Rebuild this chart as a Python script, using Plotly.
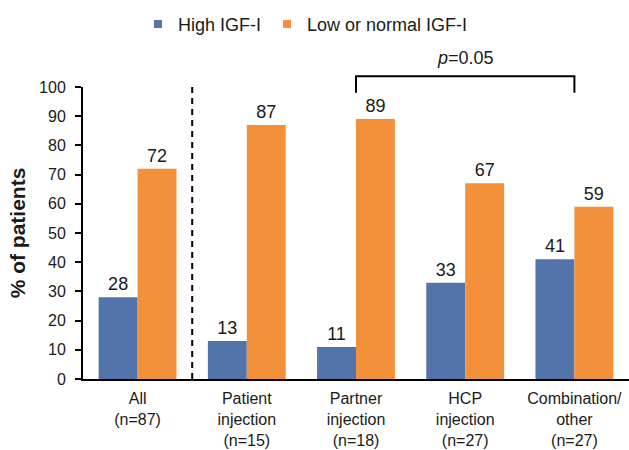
import plotly.graph_objects as go

categories = ["All<br>(n=87)", "Patient<br>injection<br>(n=15)", "Partner<br>injection<br>(n=18)",
              "HCP<br>injection<br>(n=27)", "Combination/<br>other<br>(n=27)"]
high_igf = [28, 13, 11, 33, 41]
low_normal_igf = [72, 87, 89, 67, 59]
series_names = ["High IGF-I", "Low or normal IGF-I"]
colors = ["#5274AB", "#F2913A"]
y_ticks = list(range(0, 101, 10))
p_label = "<i>p</i>=0.05"

FONT = "Liberation Sans, Arial, sans-serif"
TXT = "#1a1a1a"

fig = go.Figure()
for i, (name, vals, col) in enumerate(zip(series_names, [high_igf, low_normal_igf], colors)):
    fig.add_trace(go.Bar(
        x=categories, y=vals, name=name, marker_color=col, marker_line_width=0,
        text=[str(v) for v in vals], textposition="outside",
        textfont=dict(size=18, color=TXT, family=FONT), cliponaxis=False,
        showlegend=False,
    ))
    # legend proxy with small square symbol
    fig.add_trace(go.Scatter(
        x=[None], y=[None], mode="markers", name=name,
        legend="legend" if i == 0 else "legend2",
        marker=dict(symbol="square", size=8, color=col),
    ))

# dashed separator between "All" and the injection groups
fig.add_shape(type="line", xref="x", yref="y", x0=0.5, x1=0.5, y0=0, y1=100,
              line=dict(color="black", width=2, dash="6px,5px"))
# significance bracket
fig.add_shape(type="path", xref="x", yref="paper",
              path="M 2,0.98 L 2,1.037 L 4,1.037 L 4,0.98",
              line=dict(color="black", width=2))
fig.add_annotation(x=3, xref="x", y=1.10, yref="paper", text=p_label, showarrow=False,
                   font=dict(size=18, color=TXT, family=FONT), yanchor="middle")

legend_style = dict(orientation="h", xanchor="left", y=1.215, yanchor="middle",
                    font=dict(size=18, color=TXT), itemwidth=30, bgcolor="rgba(0,0,0,0)")

fig.update_layout(
    width=629, height=450,
    margin=dict(l=83, r=0, t=87, b=71),
    paper_bgcolor="white", plot_bgcolor="white",
    font=dict(family=FONT, size=16, color=TXT),
    barmode="group", bargap=0.287, bargroupgap=0,
    legend=dict(x=0.1007, **legend_style),
    legend2=dict(x=0.337, **legend_style),
    xaxis=dict(range=[-0.5, 4.5], showline=True, linecolor="black", linewidth=2,
               ticks="", tickfont=dict(size=16, color=TXT), ticklabelstandoff=4,
               showgrid=False, zeroline=False),
    yaxis=dict(range=[0, 100], tickvals=y_ticks, showline=True, linecolor="black", linewidth=2,
               ticks="outside", ticklen=6, tickwidth=2, tickcolor="black", ticklabelstandoff=6,
               tickfont=dict(size=16, color=TXT), showgrid=False, zeroline=False,
               title=dict(text="<b>% of patients</b>", font=dict(size=21, color=TXT), standoff=8)),
)

fig.write_html("out.html", config={"displayModeBar": False},
               post_script="document.body.style.margin='0';")
